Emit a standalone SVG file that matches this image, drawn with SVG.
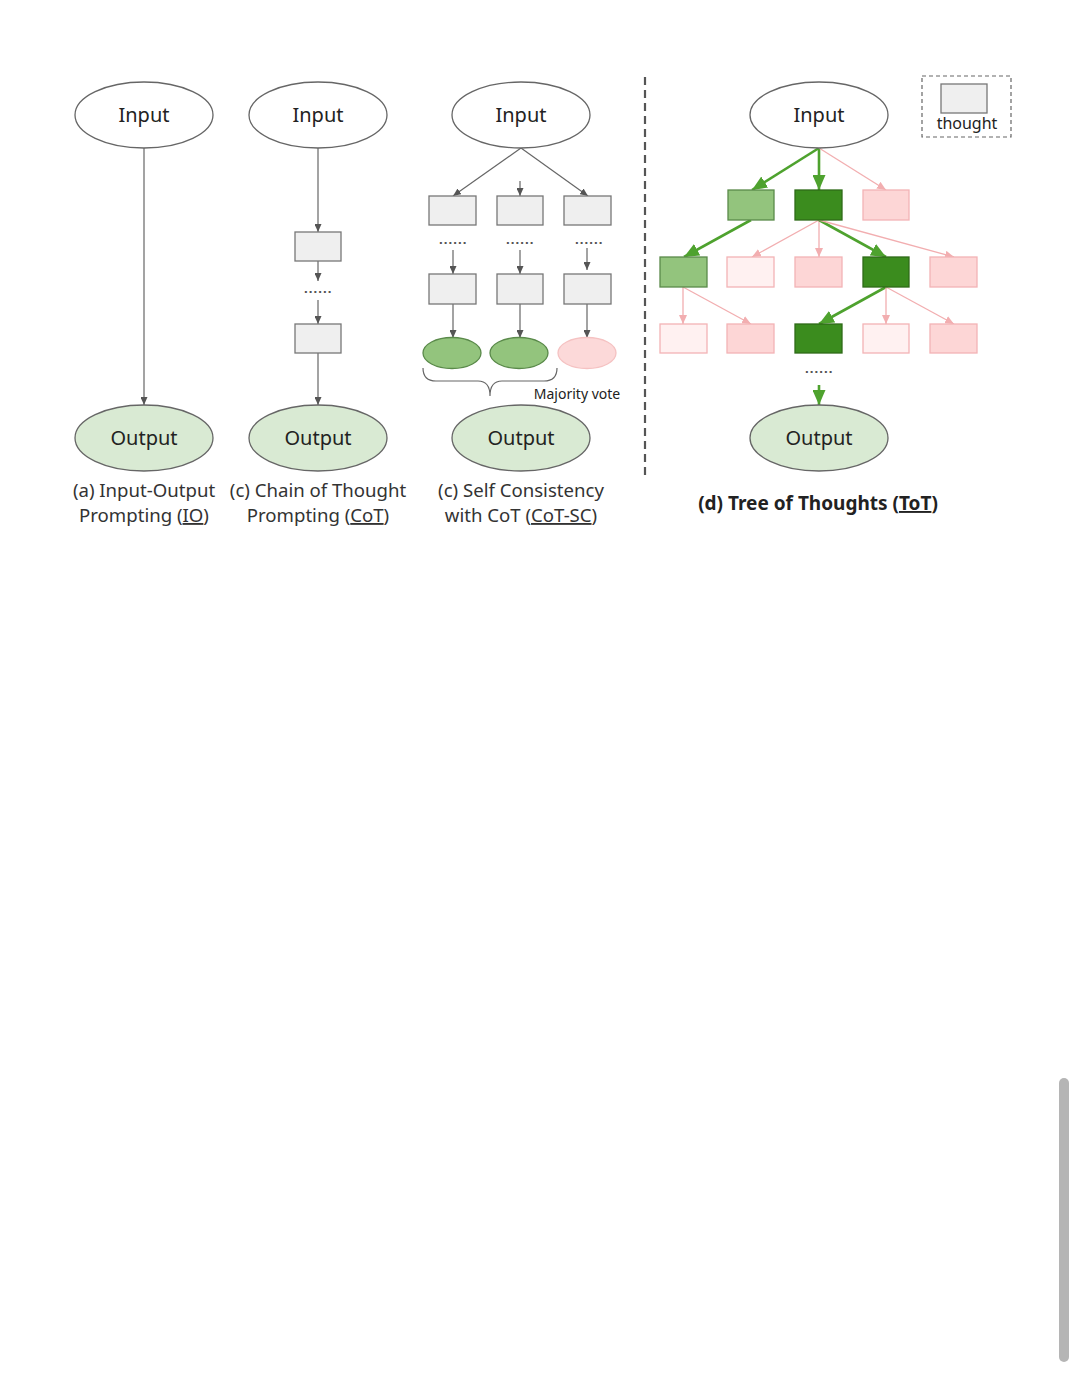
<svg xmlns="http://www.w3.org/2000/svg" width="1080" height="1388" viewBox="0 0 1080 1388">
<style>
.txt{font-family:"Noto Sans","Open Sans","DejaVu Sans",sans-serif;fill:#222;}
.nodeT{font-size:20px;text-anchor:middle;}
.cap{font-size:18.6px;text-anchor:middle;fill:#333;}
.dots{font-family:"DejaVu Sans",sans-serif;font-size:11px;font-weight:bold;letter-spacing:0.6px;text-anchor:middle;fill:#555;}
.inp{fill:#fff;stroke:#666;stroke-width:1.3;}
.out{fill:#d9ead3;stroke:#666;stroke-width:1.3;}
.box{fill:#efefef;stroke:#777;stroke-width:1.3;}
.g{stroke:#666;stroke-width:1.2;fill:none;}
.gr{stroke:#4ea22e;stroke-width:2.6;fill:none;}
.pk{stroke:#f2aeb0;stroke-width:1.3;fill:none;}
.lg{fill:#93c47d;stroke:#5a8a4a;stroke-width:1.3;}
.dg{fill:#3b8c1e;stroke:#2e6a18;stroke-width:1.3;}
.pb{fill:#fdd6d6;stroke:#f3b3b5;stroke-width:1.3;}
.vp{fill:#fff1f1;stroke:#f3b3b5;stroke-width:1.3;}
</style>
<defs>
<marker id="ag" markerUnits="userSpaceOnUse" markerWidth="8" markerHeight="7" refX="8" refY="3.5" orient="auto"><path d="M0,0 L8,3.5 L0,7 z" fill="#555"/></marker>
<marker id="agr" markerUnits="userSpaceOnUse" markerWidth="15" markerHeight="13" refX="15" refY="6.5" orient="auto"><path d="M0,0 L15,6.5 L0,13 z" fill="#4ea22e"/></marker>
<marker id="apk" markerUnits="userSpaceOnUse" markerWidth="9" markerHeight="8" refX="9" refY="4" orient="auto"><path d="M0,0 L9,4 L0,8 z" fill="#f2aeb0"/></marker>
</defs>
<rect width="1080" height="1388" fill="#fff"/>

<g id="connectors">
<line class="g" x1="144" y1="148" x2="144" y2="405" marker-end="url(#ag)"/>
<line class="g" x1="318" y1="148" x2="318" y2="232" marker-end="url(#ag)"/>
<line class="g" x1="318" y1="261" x2="318" y2="281" marker-end="url(#ag)"/>
<line class="g" x1="318" y1="300" x2="318" y2="324" marker-end="url(#ag)"/>
<line class="g" x1="318" y1="353" x2="318" y2="405" marker-end="url(#ag)"/>
<line class="g" x1="521" y1="148" x2="453" y2="196" marker-end="url(#ag)"/>
<line class="g" x1="520" y1="181" x2="520" y2="196" marker-end="url(#ag)"/>
<line class="g" x1="521" y1="148" x2="588" y2="196" marker-end="url(#ag)"/>
<line class="g" x1="453" y1="250" x2="453" y2="274" marker-end="url(#ag)"/>
<line class="g" x1="520" y1="250" x2="520" y2="274" marker-end="url(#ag)"/>
<line class="g" x1="587" y1="248" x2="587" y2="270" marker-end="url(#ag)"/>
<line class="g" x1="453" y1="304" x2="453" y2="338" marker-end="url(#ag)"/>
<line class="g" x1="520" y1="304" x2="520" y2="338" marker-end="url(#ag)"/>
<line class="g" x1="587" y1="304" x2="587" y2="338" marker-end="url(#ag)"/>
<path class="g" d="M423,368 Q423,381 436,381 L478,381 Q490,381 490,396 Q490,381 502,381 L544,381 Q557,381 557,368"/>
<line class="gr" x1="819" y1="148" x2="752" y2="190" marker-end="url(#agr)"/>
<line class="gr" x1="819" y1="148" x2="819" y2="190" marker-end="url(#agr)"/>
<line class="pk" x1="819" y1="148" x2="886" y2="190" marker-end="url(#apk)"/>
<line class="gr" x1="751" y1="220" x2="684" y2="257" marker-end="url(#agr)"/>
<line class="pk" x1="819" y1="220" x2="752" y2="257" marker-end="url(#apk)"/>
<line class="pk" x1="819" y1="220" x2="819" y2="257" marker-end="url(#apk)"/>
<line class="gr" x1="819" y1="220" x2="886" y2="257" marker-end="url(#agr)"/>
<line class="pk" x1="819" y1="220" x2="954" y2="257" marker-end="url(#apk)"/>
<line class="pk" x1="683" y1="287" x2="683" y2="324" marker-end="url(#apk)"/>
<line class="pk" x1="683" y1="287" x2="751" y2="324" marker-end="url(#apk)"/>
<line class="gr" x1="886" y1="287" x2="819" y2="324" marker-end="url(#agr)"/>
<line class="pk" x1="886" y1="287" x2="886" y2="324" marker-end="url(#apk)"/>
<line class="pk" x1="886" y1="287" x2="954" y2="324" marker-end="url(#apk)"/>
<line class="gr" x1="819" y1="385" x2="819" y2="405" marker-end="url(#agr)"/>
</g>

<g id="divider"><line x1="645" y1="77" x2="645" y2="478" stroke="#555" stroke-width="2.2" stroke-dasharray="8,5"/></g>

<g id="panel-a">
<g id="a-input"><ellipse class="inp" cx="144" cy="115" rx="69" ry="33"/><text class="txt nodeT" x="144" y="122">Input</text></g>
<g id="a-output"><ellipse class="out" cx="144" cy="438" rx="69" ry="33"/><text class="txt nodeT" x="144" y="445">Output</text></g>
<g id="a-caption"><text class="txt cap" x="144" y="497">(a) Input-Output</text><text class="txt cap" x="144" y="522">Prompting (<tspan text-decoration="underline">IO</tspan>)</text></g>
</g>

<g id="panel-b">
<g id="b-input"><ellipse class="inp" cx="318" cy="115" rx="69" ry="33"/><text class="txt nodeT" x="318" y="122">Input</text></g>
<g id="b-t1"><rect class="box" x="295" y="232" width="46" height="29"/></g>
<text class="dots" x="318" y="293">......</text>
<g id="b-t2"><rect class="box" x="295" y="324" width="46" height="29"/></g>
<g id="b-output"><ellipse class="out" cx="318" cy="438" rx="69" ry="33"/><text class="txt nodeT" x="318" y="445">Output</text></g>
<g id="b-caption"><text class="txt cap" x="318" y="497">(c) Chain of Thought</text><text class="txt cap" x="318" y="522">Prompting (<tspan text-decoration="underline">CoT</tspan>)</text></g>
</g>

<g id="panel-c">
<g id="c-input"><ellipse class="inp" cx="521" cy="115" rx="69" ry="33"/><text class="txt nodeT" x="521" y="122">Input</text></g>
<g id="c-t11"><rect class="box" x="429" y="196" width="47" height="29"/></g>
<g id="c-t12"><rect class="box" x="497" y="196" width="46" height="29"/></g>
<g id="c-t13"><rect class="box" x="564" y="196" width="47" height="29"/></g>
<text class="dots" x="453" y="244">......</text>
<text class="dots" x="520" y="244">......</text>
<text class="dots" x="589" y="244">......</text>
<g id="c-t21"><rect class="box" x="429" y="274" width="47" height="30"/></g>
<g id="c-t22"><rect class="box" x="497" y="274" width="46" height="30"/></g>
<g id="c-t23"><rect class="box" x="564" y="274" width="47" height="30"/></g>
<g id="c-a1"><ellipse class="lg" cx="452" cy="353" rx="29" ry="15.5"/></g>
<g id="c-a2"><ellipse class="lg" cx="519" cy="353" rx="29" ry="15.5"/></g>
<g id="c-a3"><ellipse cx="587" cy="353" rx="29" ry="15.5" fill="#fcd9d9" stroke="#f5c2c2" stroke-width="1.3"/></g>
<text class="txt" x="577" y="399" font-size="14" text-anchor="middle" fill="#444">Majority vote</text>
<g id="c-output"><ellipse class="out" cx="521" cy="438" rx="69" ry="33"/><text class="txt nodeT" x="521" y="445">Output</text></g>
<g id="c-caption"><text class="txt cap" x="521" y="497">(c) Self Consistency</text><text class="txt cap" x="521" y="522">with CoT (<tspan text-decoration="underline">CoT-SC</tspan>)</text></g>
</g>

<g id="panel-d">
<g id="legend"><rect x="922" y="76" width="89" height="61" fill="none" stroke="#666" stroke-width="1.2" stroke-dasharray="4,3"/><rect class="box" x="941" y="84" width="46" height="29"/><text class="txt" x="967" y="129" font-size="16" text-anchor="middle" fill="#333">thought</text></g>
<g id="d-input"><ellipse class="inp" cx="819" cy="115" rx="69" ry="33"/><text class="txt nodeT" x="819" y="122">Input</text></g>
<g id="d-r1a"><rect class="lg" x="728" y="190" width="46" height="30"/></g>
<g id="d-r1b"><rect class="dg" x="795" y="190" width="47" height="30"/></g>
<g id="d-r1c"><rect class="pb" x="863" y="190" width="46" height="30"/></g>
<g id="d-r2a"><rect class="lg" x="660" y="257" width="47" height="30"/></g>
<g id="d-r2b"><rect class="vp" x="727" y="257" width="47" height="30"/></g>
<g id="d-r2c"><rect class="pb" x="795" y="257" width="47" height="30"/></g>
<g id="d-r2d"><rect class="dg" x="863" y="257" width="46" height="30"/></g>
<g id="d-r2e"><rect class="pb" x="930" y="257" width="47" height="30"/></g>
<g id="d-r3a"><rect class="vp" x="660" y="324" width="47" height="29"/></g>
<g id="d-r3b"><rect class="pb" x="727" y="324" width="47" height="29"/></g>
<g id="d-r3c"><rect class="dg" x="795" y="324" width="47" height="29"/></g>
<g id="d-r3d"><rect class="vp" x="863" y="324" width="46" height="29"/></g>
<g id="d-r3e"><rect class="pb" x="930" y="324" width="47" height="29"/></g>
<text class="dots" x="819" y="373">......</text>
<g id="d-output"><ellipse class="out" cx="819" cy="438" rx="69" ry="33"/><text class="txt nodeT" x="819" y="445">Output</text></g>
<g id="d-caption"><text class="txt" x="818" y="510" font-size="19" font-weight="bold" text-anchor="middle">(d) Tree of Thoughts (<tspan text-decoration="underline">ToT</tspan>)</text></g>
</g>

<rect x="1059" y="1078" width="10" height="284" rx="5" fill="#b5b5b5"/>
</svg>
